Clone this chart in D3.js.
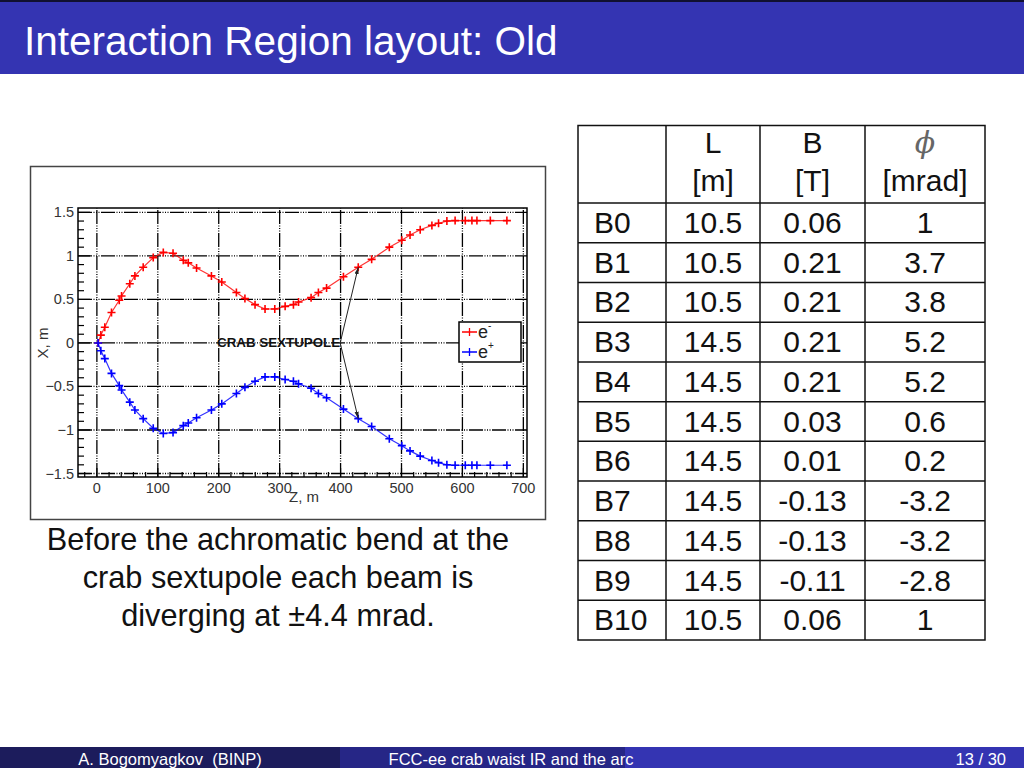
<!DOCTYPE html>
<html>
<head>
  <meta charset="utf-8">
  <title>Interaction Region layout: Old</title>
  <script src="https://d3js.org/d3.v7.min.js"></script>
  <style>
    body { margin: 0; background: #fff; }
    svg { display: block; font-family: "Liberation Sans", Arial, sans-serif; }
  </style>
</head>
<body>
<div id="slide"></div>
<script>
  // beam positions along the IR
  const zPos = [2, 6.5, 13, 24, 36.7, 40.5, 54, 62.4, 76, 92.5, 109, 125, 141.8, 150, 163.6, 188, 205, 229, 243,
    259.6, 276, 292, 309, 322.6, 331, 351.6, 363.6, 377, 404.7, 429, 451, 480, 500.5, 514, 530.7, 549.9, 560.8,
    574.5, 588, 604.7, 615.6, 623.8, 645.8, 673];
  const xElectron = [0, 0.09, 0.18, 0.35, 0.49, 0.54, 0.68, 0.77, 0.87, 0.98, 1.04, 1.03, 0.95, 0.92, 0.86, 0.77, 0.70, 0.58, 0.51,
    0.44, 0.39, 0.39, 0.42, 0.44, 0.47, 0.52, 0.58, 0.63, 0.76, 0.87, 0.96, 1.10, 1.18, 1.24, 1.30, 1.35, 1.375,
    1.40, 1.405, 1.405, 1.405, 1.405, 1.405, 1.405];
  const xPositron = [0, -0.09, -0.18, -0.35, -0.49, -0.54, -0.68, -0.77, -0.87, -0.98, -1.04, -1.03, -0.95, -0.92, -0.86, -0.77, -0.70, -0.58, -0.51,
    -0.44, -0.39, -0.39, -0.42, -0.44, -0.47, -0.52, -0.58, -0.63, -0.76, -0.87, -0.96, -1.10, -1.18, -1.24, -1.30, -1.35, -1.375,
    -1.40, -1.405, -1.405, -1.405, -1.405, -1.405, -1.405];
  const xTicks = [0, 100, 200, 300, 400, 500, 600, 700];
  const yTicks = [-1.5, -1, -0.5, 0, 0.5, 1, 1.5];
  const seriesNames = ["e", "e"];
  const seriesSigns = ["-", "+"];
  const seriesColors = ["#ff0000", "#0000ff"];
  const labelText = "CRAB SEXTUPOLE";
  const labelAt = [401, 0];
  const arrowTargets = [[429, 0.87], [429, -0.87]];

  // dipole table
  const magnets = ["B0", "B1", "B2", "B3", "B4", "B5", "B6", "B7", "B8", "B9", "B10"];
  const lengths = ["10.5", "10.5", "10.5", "14.5", "14.5", "14.5", "14.5", "14.5", "14.5", "14.5", "10.5"];
  const fields = ["0.06", "0.21", "0.21", "0.21", "0.21", "0.03", "0.01", "-0.13", "-0.13", "-0.11", "0.06"];
  const angles = ["1", "3.7", "3.8", "5.2", "5.2", "0.6", "0.2", "-3.2", "-3.2", "-2.8", "1"];

  const caption = ["Before the achromatic bend at the", "crab sextupole each beam is", "diverging at \u00B14.4 mrad."];

  const svg = d3.select("#slide").append("svg").attr("width", 1024).attr("height", 768);

  // title bar
  svg.append("rect").attr("x", 0).attr("y", 0).attr("width", 1024).attr("height", 74).attr("fill", "#3434b2");
  svg.append("rect").attr("x", 0).attr("y", 0).attr("width", 1024).attr("height", 2).attr("fill", "#101030");
  svg.append("text").attr("x", 24).attr("y", 55).attr("fill", "#fff")
    .attr("font-size", 40.5).text("Interaction Region layout: Old");

  // footer
  const foot = svg.append("g");
  foot.append("rect").attr("x", 0).attr("y", 747).attr("width", 340).attr("height", 21).attr("fill", "#1c1c5c");
  foot.append("rect").attr("x", 340).attr("y", 747).attr("width", 285).attr("height", 21).attr("fill", "#262686");
  foot.append("rect").attr("x", 625).attr("y", 747).attr("width", 399).attr("height", 21).attr("fill", "#3434b2");
  foot.selectAll("text")
    .data([["A. Bogomyagkov  (BINP)", 170, "middle"], ["FCC-ee crab waist IR and the arc", 511, "middle"], ["13 / 30", 1006, "end"]])
    .enter().append("text")
    .attr("x", d => d[1]).attr("y", 765).attr("text-anchor", d => d[2])
    .attr("fill", "#fff").attr("font-size", 16.5)
    .style("white-space", "pre")
    .text(d => d[0]);

  // chart panel
  svg.append("rect").attr("x", 30.5).attr("y", 166.5).attr("width", 515).attr("height", 353)
    .attr("fill", "#fff").attr("stroke", "#444").attr("stroke-width", 1.5);

  const x = d3.scaleLinear().domain([-31, 706]).range([78, 527]);
  const y = d3.scaleLinear().domain([-1.54, 1.55]).range([477, 208]);
  const plot = svg.append("g");

  const gridDash = "14,1.5,1,1.5,1,1.5,1,1.5";
  plot.selectAll(".gx").data(xTicks).enter().append("line")
    .attr("x1", d => x(d)).attr("x2", d => x(d)).attr("y1", y.range()[0]).attr("y2", y.range()[1])
    .attr("stroke", "#000").attr("stroke-width", 1.3).attr("stroke-dasharray", gridDash);
  plot.selectAll(".gy").data(yTicks).enter().append("line")
    .attr("x1", x.range()[0]).attr("x2", x.range()[1]).attr("y1", d => y(d)).attr("y2", d => y(d))
    .attr("stroke", "#000").attr("stroke-width", 1.3).attr("stroke-dasharray", gridDash);

  // minor + major ticks
  const yMinor = d3.range(-15, 16).map(d => d / 10);
  plot.selectAll(".ty").data(yMinor).enter().append("line")
    .attr("x1", x.range()[0]).attr("x2", d => x.range()[0] + (Math.abs(d * 2 - Math.round(d * 2)) < 1e-6 ? 12 : 6))
    .attr("y1", d => y(d)).attr("y2", d => y(d)).attr("stroke", "#000").attr("stroke-width", 1.2);
  const xMinor = d3.range(-20, 701, 20);
  plot.selectAll(".tx").data(xMinor).enter().append("line")
    .attr("x1", d => x(d)).attr("x2", d => x(d))
    .attr("y1", y.range()[0]).attr("y2", d => y.range()[0] - (d % 100 === 0 ? 9 : 5))
    .attr("stroke", "#000").attr("stroke-width", 1.2);

  plot.append("rect").attr("x", 78).attr("y", 208).attr("width", 449).attr("height", 269)
    .attr("fill", "none").attr("stroke", "#000").attr("stroke-width", 1.5);

  plot.selectAll(".ly").data(yTicks).enter().append("text")
    .attr("x", 74).attr("y", d => y(d) + 5).attr("text-anchor", "end")
    .attr("font-size", 14.5).attr("fill", "#333").text(d => d3.format("")(d));
  plot.selectAll(".lx").data(xTicks).enter().append("text")
    .attr("x", d => x(d)).attr("y", 493).attr("text-anchor", "middle")
    .attr("font-size", 14.5).attr("fill", "#333").text(d => d);
  plot.append("text").attr("x", 304).attr("y", 502).attr("text-anchor", "middle")
    .attr("font-size", 15).attr("fill", "#333").text("Z, m");
  plot.append("text").attr("transform", "translate(48,343) rotate(-90)").attr("text-anchor", "middle")
    .attr("font-size", 15).attr("fill", "#333").text("X, m");

  // curves
  const line = d3.line().x(d => x(d[0])).y(d => y(d[1]));
  [xElectron, xPositron].forEach((vals, i) => {
    const pts = zPos.map((z, k) => [z, vals[k]]);
    plot.append("path").datum(pts).attr("d", line).attr("fill", "none")
      .attr("stroke", seriesColors[i]).attr("stroke-width", 1.2).attr("opacity", 0.8);
    const m = plot.append("g").attr("stroke", seriesColors[i]).attr("stroke-width", 1.6);
    m.selectAll("path").data(pts).enter().append("path")
      .attr("d", d => `M${x(d[0]) - 4},${y(d[1])}h8M${x(d[0])},${y(d[1]) - 4}v8`);
  });

  // annotation
  plot.append("defs").append("marker").attr("id", "ah").attr("viewBox", "0 0 10 10")
    .attr("refX", 10).attr("refY", 5).attr("markerWidth", 7).attr("markerHeight", 7).attr("orient", "auto")
    .append("path").attr("d", "M0,2L10,5L0,8Z").attr("fill", "#222");
  arrowTargets.forEach(t => {
    plot.append("line").attr("x1", x(labelAt[0]) - 1).attr("y1", y(labelAt[1]))
      .attr("x2", x(t[0])).attr("y2", y(t[1])).attr("stroke", "#222").attr("stroke-width", 1)
      .attr("marker-end", "url(#ah)");
  });
  plot.append("text").attr("x", 217).attr("y", y(labelAt[1]) + 4.5)
    .attr("textLength", x(labelAt[0]) - 1 - 217).attr("lengthAdjust", "spacingAndGlyphs")
    .attr("font-size", 12.5).attr("font-weight", "bold").attr("fill", "#111").text(labelText);

  // legend
  const lg = plot.append("g").attr("transform", "translate(459,322)");
  lg.append("rect").attr("x", 0).attr("y", 0).attr("width", 62).attr("height", 40)
    .attr("fill", "#fff").attr("stroke", "#000").attr("stroke-width", 1.5);
  seriesNames.forEach((n, i) => {
    const cy = 10 + i * 20;
    lg.append("path").attr("d", `M3,${cy}h15M10.5,${cy - 4}v8`).attr("stroke", seriesColors[i]).attr("stroke-width", 1.3);
    const t = lg.append("text").attr("x", 19).attr("y", cy + 6).attr("font-size", 18).attr("fill", "#222").text(n);
    t.append("tspan").attr("dy", -9).attr("font-size", 10).text(seriesSigns[i]);
  });

  // caption
  svg.append("g").selectAll("text").data(caption).enter().append("text")
    .attr("x", 278).attr("y", (d, i) => 550 + i * 38).attr("text-anchor", "middle")
    .attr("font-size", 30.7).attr("fill", "#111").text(d => d);

  // table
  const colX = [578, 666, 760, 865, 985];
  const rowY = d3.scaleLinear().domain([0, magnets.length]).range([203, 640]);
  const tbl = svg.append("g");
  tbl.append("rect").attr("x", 578).attr("y", 125.5).attr("width", 407).attr("height", 514.5)
    .attr("fill", "none").attr("stroke", "#111").attr("stroke-width", 1.5);
  colX.slice(1, 4).forEach(cx => tbl.append("line").attr("x1", cx).attr("x2", cx).attr("y1", 125).attr("y2", 640)
    .attr("stroke", "#111").attr("stroke-width", 1.5));
  d3.range(magnets.length).forEach(r => tbl.append("line").attr("x1", 578).attr("x2", 985)
    .attr("y1", rowY(r)).attr("y2", rowY(r)).attr("stroke", "#111").attr("stroke-width", 1.5));

  const heads = [["L", "[m]"], ["B", "[T]"], ["\u03D5", "[mrad]"]];
  heads.forEach((h, i) => {
    const cx = (colX[i + 1] + colX[i + 2]) / 2;
    tbl.append("text").attr("x", cx).attr("y", 153).attr("text-anchor", "middle").attr("font-size", 30)
      .attr("fill", i === 2 ? "#666" : "#111").attr("font-style", i === 2 ? "italic" : "normal")
      .style("font-family", i === 2 ? "'DejaVu Serif', serif" : null).text(h[0]);
    tbl.append("text").attr("x", cx).attr("y", 191).attr("text-anchor", "middle").attr("font-size", 30)
      .attr("fill", "#111").text(h[1]);
  });
  magnets.forEach((m, r) => {
    const ty = rowY(r) + 30;
    tbl.append("text").attr("x", 594).attr("y", ty).attr("font-size", 30).attr("fill", "#111").text(m);
    [lengths[r], fields[r], angles[r]].forEach((v, c) => {
      tbl.append("text").attr("x", (colX[c + 1] + colX[c + 2]) / 2).attr("y", ty)
        .attr("text-anchor", "middle").attr("font-size", 30).attr("fill", "#111").text(v);
    });
  });
</script>
</body>
</html>
